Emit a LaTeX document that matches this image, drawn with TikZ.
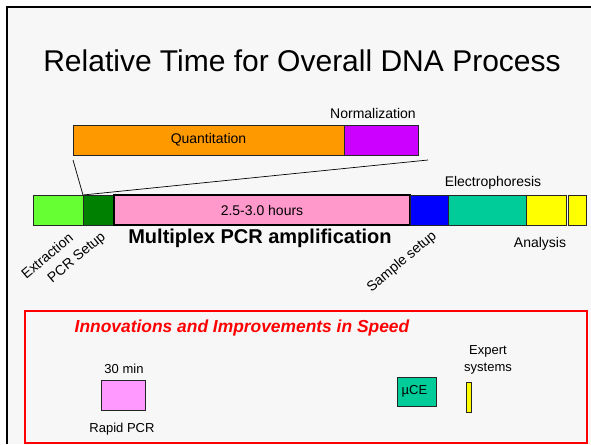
\documentclass[tikz,border=0pt]{standalone}
\usepackage{fontspec}
\setmainfont{Liberation Sans}
\definecolor{bg}{HTML}{F7F7F7}
\definecolor{extrgreen}{HTML}{66FF33}
\definecolor{pcrgreen}{HTML}{008000}
\definecolor{mpink}{HTML}{FF99CC}
\definecolor{sblue}{HTML}{0000FF}
\definecolor{eteal}{HTML}{00CC99}
\definecolor{ayellow}{HTML}{FFFF00}
\definecolor{qorange}{HTML}{FF9900}
\definecolor{npurple}{HTML}{CC00FF}
\definecolor{rpink}{HTML}{FF99FF}
\begin{document}
\begin{tikzpicture}[x=1pt,y=-1pt,
  seg/.style={draw=black!85, line width=0.8pt, inner sep=0pt, outer sep=0pt, anchor=north west},
  lbl/.style={font=\fontsize{14}{16}\selectfont, inner sep=0pt},
  small/.style={font=\fontsize{13}{17}\selectfont, inner sep=0pt}]
\useasboundingbox (0,0) rectangle (591,444);
\fill[white] (0,0) rectangle (591,444);
\fill[bg] (7,7) rectangle (591,444);
\draw[line width=2pt] (7,444) -- (7,7) -- (591,7);
% title
\node[font=\fontsize{30}{34}\selectfont, inner sep=0pt] (title) at (302,61) {Relative Time for Overall DNA Process};
% top bar
\node[seg, fill=qorange, minimum width=271pt, minimum height=30pt] (quant) at (73,125) {};
\node[lbl] at (quant.center) {Quantitation};
\node[seg, fill=npurple, minimum width=74pt, minimum height=30pt] (norm) at (344,125) {};
\node[lbl] (normlbl) at (373,113) {Normalization};
% main bar
\node[seg, fill=extrgreen, minimum width=50pt, minimum height=30pt] (extr) at (33,195) {};
\node[seg, fill=pcrgreen, minimum width=31pt, minimum height=30pt] (pcrs) at (83,195) {};
\node[seg, fill=mpink, line width=2pt, draw=black, minimum width=296pt, minimum height=30pt] (mpcr) at (114,195) {};
\node[lbl] at (mpcr.center) {2.5-3.0 hours};
\node[seg, fill=sblue, minimum width=38pt, minimum height=30pt] (samp) at (410,195) {};
\node[seg, fill=eteal, minimum width=78pt, minimum height=30pt] (elec) at (448,195) {};
\node[seg, fill=ayellow, minimum width=40pt, minimum height=30pt] (ana1) at (526,195) {};
\node[seg, fill=ayellow, minimum width=18pt, minimum height=30pt] (ana2) at (568,195) {};
% zoom lines
\coordinate (l1) at (73,160);
\coordinate (l2) at (428,160);
\draw[line width=0.7pt] (l1) -- (pcrs.north west) -- (l2);
% labels
\node[lbl] (eleclbl) at (493,183) {Electrophoresis};
\node[lbl] (analbl) at (540,244) {Analysis};
\node[font=\fontsize{20}{22}\selectfont\bfseries, inner sep=0pt] (mpcrlbl) at (260,238) {Multiplex PCR amplification};
\node[lbl, rotate=40] (extrlbl) at (47,256) {Extraction};
\node[lbl, rotate=40] (pcrslbl) at (77,258) {PCR Setup};
\node[lbl, rotate=40] (samplbl) at (402,262) {Sample setup};
% innovations box
\node[seg, draw=red, line width=2pt, fill=none, minimum width=562pt, minimum height=132pt] (inno) at (25,311) {};
\node[font=\fontsize{17.4}{20}\selectfont\bfseries\itshape, text=red, inner sep=0pt] (innolbl) at (242,328) {Innovations and Improvements in Speed};
\node[small] (min30) at (124,369) {30 min};
\node[seg, fill=rpink, minimum width=44pt, minimum height=30pt] (rpcr) at (101,380) {};
\node[small] (rpcrlbl) at (122,429) {Rapid PCR};
\node[seg, fill=eteal, minimum width=39pt, minimum height=29pt] (uce) at (397,377) {};
\node[small] at ([xshift=-2pt]uce.center) {µCE};
\node[seg, fill=ayellow, minimum width=5pt, minimum height=30pt] (expert) at (466,382) {};
\node[small, align=center] (expertlbl) at (488,360) {Expert\\systems};
\end{tikzpicture}
\end{document}
